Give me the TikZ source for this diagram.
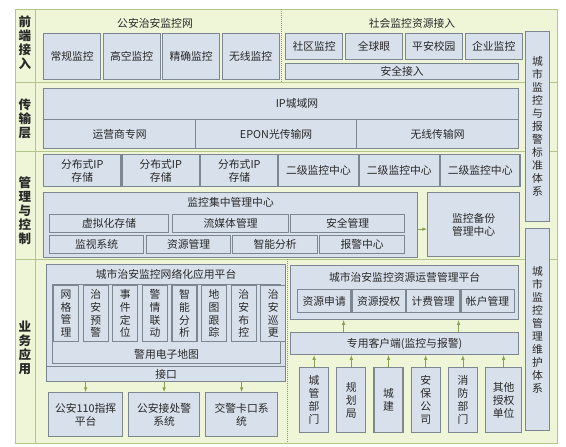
\documentclass[tikz,border=0pt]{standalone}
\usepackage{fontspec}
\setmainfont{Noto Sans CJK SC}
\usetikzlibrary{arrows,positioning}
\definecolor{bgGreen}{RGB}{238,246,215}
\definecolor{frameGreen}{RGB}{178,198,140}
\definecolor{boxFill}{RGB}{216,224,235}
\definecolor{boxLine}{RGB}{125,135,145}
\definecolor{arrowGreen}{RGB}{135,160,85}
\definecolor{txt}{RGB}{40,40,40}
\tikzset{
  basic/.style  = {draw=boxLine, fill=boxFill, line width=1.2pt, inner sep=0pt,
                   text=txt, align=center, font=\fontsize{10.8}{13}\selectfont},
  cell/.style   = {basic, anchor=north west},
  front/.style  = {cell, minimum width=57pt, minimum height=46pt},
  soc/.style    = {cell, minimum width=57pt, minimum height=26pt},
  store/.style  = {cell, minimum width=77.33pt, minimum height=32pt},
  centre/.style = {cell, minimum width=79.67pt, minimum height=32pt},
  vcol/.style   = {cell, minimum width=25pt, minimum height=56pt,
                   font=\fontsize{10.8}{12.8}\selectfont},
  user/.style   = {cell, minimum width=29pt, minimum height=65pt},
  ttl/.style    = {inner sep=0pt, text=txt, font=\fontsize{10.8}{13}\selectfont},
  side/.style   = {inner sep=0pt, text=txt, align=center,
                   font=\bfseries\fontsize{12.5}{14}\selectfont},
  arr/.style    = {->, >=latex, draw=arrowGreen, line width=0.6pt}
}

\begin{document}
\begin{tikzpicture}[x=1pt, y=-1pt]
  \useasboundingbox (0,0) rectangle (566,447);

  % green frame with its rows
  \fill[bgGreen] (15,9) rectangle (557,443);
  \draw[frameGreen, line width=0.8pt] (15,9) rectangle (557,443);
  \draw[frameGreen, line width=0.8pt] (35,9) -- (35,443)
    (15,82) -- (557,82) (15,151) -- (557,151) (15,259) -- (557,259);
  \draw[arrowGreen, densely dotted, line width=1pt] (281,9) -- (281,82);
  \draw[arrowGreen, densely dotted, line width=1pt] (287,259) -- (287,443);

  % row names
  \node[side] (qdjr) at (25,43)  {前\\端\\接\\入};
  \node[side] (csc)  at (25,119) {传\\输\\层};
  \node[side] (glkz) at (25,211) {管\\理\\与\\控\\制};
  \node[side] (ywyy) at (25,348) {业\\务\\应\\用};

  % front end
  \node[ttl] (gazajk) at (155,23) {公安治安监控网};
  \node[front] (cgjk) at (43,33) {常规监控};
  \node[front, right=1.3pt of cgjk] (gkjk) {高空监控};
  \node[front, right=1.3pt of gkjk] (jqjk) {精确监控};
  \node[front, right=1.3pt of jqjk] (wxjk) {无线监控};

  \node[ttl] (shjk) at (412,23) {社会监控资源接入};
  \node[soc] (sqjk) at (285,33) {社区监控};
  \node[soc, right=1.67pt of sqjk] (qqy)  {全球眼};
  \node[soc, right=1.67pt of qqy]  (paxy) {平安校园};
  \node[soc, right=1.67pt of paxy] (qyjk) {企业监控};
  \node[cell, minimum width=233pt, minimum height=16pt] (aqjr) at (285,63) {安全接入};

  % transport
  \node[cell, minimum width=475pt, minimum height=31pt] (ipw) at (43,88) {};
  \node[ttl] (ipwt) at (297,103) {IP城域网};
  \node[cell, minimum width=152pt, minimum height=29pt] (yyzw) at (43,119) {运营商专网};
  \node[cell, minimum width=161pt, minimum height=29pt] (epon) at (195,119) {EPON光传输网};
  \node[cell, minimum width=162pt, minimum height=29pt] (wxcs) at (356,119) {无线传输网};

  % management and control
  \node[store] (fb1) at (43,154) {分布式IP\\存储};
  \node[store, right=0pt of fb1] (fb2) {分布式IP\\存储};
  \node[store, right=0pt of fb2] (fb3) {分布式IP\\存储};
  \node[centre] (ej1) at (278,154) {二级监控中心};
  \node[centre, right=0pt of ej1] (ej2) {二级监控中心};
  \node[centre, right=0pt of ej2] (ej3) {二级监控中心};

  \node[cell, minimum width=374pt, minimum height=65pt] (jzgl) at (43,192) {};
  \node[ttl, below=5.5pt of jzgl.north] (jzglt) {监控集中管理中心};
  \node[cell, minimum width=119pt, minimum height=18pt] (xnh)  at (49,214)  {虚拟化存储};
  \node[cell, minimum width=116pt, minimum height=18pt] (lmt)  at (172,214) {流媒体管理};
  \node[cell, minimum width=114pt, minimum height=18pt] (aqgl) at (290,214) {安全管理};
  \node[cell, minimum width=94pt,  minimum height=18pt] (jsxt) at (49,235)  {监视系统};
  \node[cell, minimum width=84pt,  minimum height=18pt] (zygl) at (146,235) {资源管理};
  \node[cell, minimum width=85pt,  minimum height=18pt] (znfx) at (232,235) {智能分析};
  \node[cell, minimum width=85pt,  minimum height=18pt] (bjzx) at (319,235) {报警中心};
  \node[cell, minimum width=92pt,  minimum height=64pt] (jkbf) at (427,192) {监控备份\\管理中心};
  \draw[arr] ([yshift=-4pt]jzgl.east) -- ([yshift=-4pt]jzgl.east -| jkbf.west);

  % applications, left part
  \node[cell, minimum width=239pt, minimum height=117pt] (wgh) at (46,264) {};
  \node[ttl, below=5.5pt of wgh.north] (wght) {城市治安监控网络化应用平台};
  \node[cell, minimum width=228pt, minimum height=79pt] (jydt) at (52,284) {};
  \node[ttl, above=5pt of jydt.south] (jydtt) {警用电子地图};
  \node[vcol] (wggl) at (53,285) {网\\格\\管\\理};
  \node[vcol, right=3.4pt of wggl] (zayj) {治\\安\\预\\警};
  \node[vcol, right=3.4pt of zayj] (sjdw) {事\\件\\定\\位};
  \node[vcol, right=3.4pt of sjdw] (jqld) {警\\情\\联\\动};
  \node[vcol, right=3.4pt of jqld] (znfx2) {智\\能\\分\\析};
  \node[vcol, right=3.4pt of znfx2] (dtgz) {地\\图\\跟\\踪};
  \node[vcol, right=3.4pt of dtgz] (zabk) {治\\安\\布\\控};
  \node[vcol, right=3.4pt of zabk] (zaxg) {治\\安\\巡\\更};
  \node[cell, minimum width=239pt, minimum height=15pt] (jiekou) at (46,366) {接口};

  \node[cell, minimum width=74pt, minimum height=44pt] (gazh) at (48,392)  {公安110指挥\\平台};
  \node[cell, minimum width=71pt, minimum height=44pt] (jcj)  at (128,392) {公安接处警\\系统};
  \node[cell, minimum width=72pt, minimum height=44pt] (jjkk) at (205,392) {交警卡口系\\统};
  \foreach \bx in {gazh,jcj,jjkk}
    \draw[arr] (jiekou.south -| \bx.north) -- (\bx.north);

  % applications, right part
  \node[cell, minimum width=228pt, minimum height=54pt] (yypt) at (290,265) {};
  \node[ttl, below=7.5pt of yypt.north] (yyptt) {城市治安监控资源运营管理平台};
  \node[cell, minimum width=53.25pt, minimum height=23pt] (zysq) at (297,289) {资源申请};
  \node[cell, minimum width=53.25pt, minimum height=23pt, right=0pt of zysq] (zysq2) {资源授权};
  \node[cell, minimum width=53.25pt, minimum height=23pt, right=0pt of zysq2] (jfgl) {计费管理};
  \node[cell, minimum width=53.25pt, minimum height=23pt, right=0pt of jfgl] (zhgl) {帐户管理};

  \node[cell, minimum width=228pt, minimum height=22pt] (khd) at (290,332) {专用客户端(监控与报警)};
  \draw[arr] ([xshift=-61pt]khd.north) -- ([xshift=-61pt]yypt.south);
  \draw[arr] ([xshift=54pt]khd.north) -- ([xshift=54pt]yypt.south);

  \node[user] (cgbm) at (299,367) {城\\管\\部\\门};
  \node[user, right=7pt of cgbm] (ghj)  {规\\划\\局};
  \node[user, right=7pt of ghj]  (cj)   {城\\建};
  \node[user, right=7pt of cj]   (abgs) {安\\保\\公\\司};
  \node[user, right=7pt of abgs] (xfbm) {消\\防\\部\\门};
  \node[user, right=7pt of xfbm, minimum width=36pt] (qtdw) {其他\\授权\\单位};
  \foreach \bx in {cgbm,ghj,cj,abgs,xfbm,qtdw}
    \draw[arr] (\bx.north) -- (\bx.north |- khd.south);

  % standards and maintenance
  \node[cell, minimum width=24pt, minimum height=190pt] (bztx) at (525,31)
    {城\\市\\监\\控\\与\\报\\警\\标\\准\\体\\系};
  \node[cell, minimum width=24pt, minimum height=202pt] (whtx) at (525,228)
    {城\\市\\监\\控\\管\\理\\维\\护\\体\\系};
\end{tikzpicture}
\end{document}
